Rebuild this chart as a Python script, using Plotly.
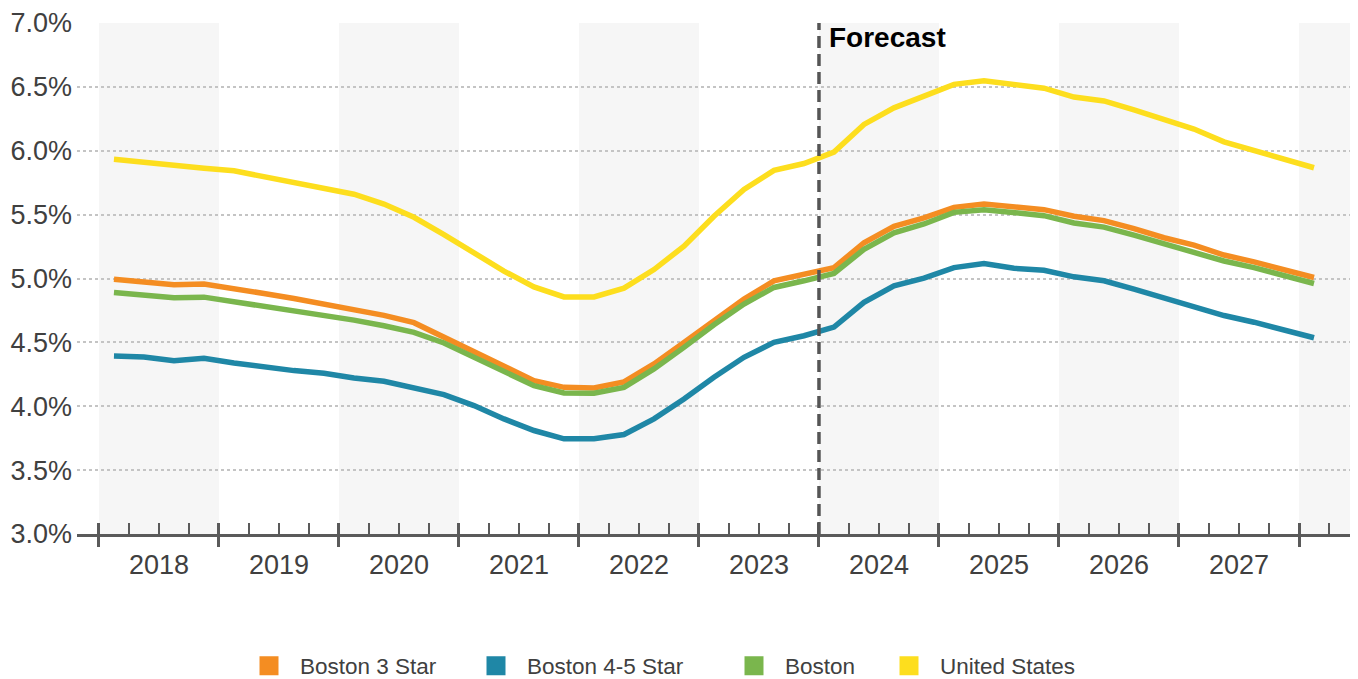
import plotly.graph_objects as go

# Quarterly periods, 2018 Q1 through 2028 Q1
years = list(range(2018, 2029))
quarters = [(y, q) for y in years for q in (1, 2, 3, 4)][:41]
x_vals = [y + (q - 0.5) / 4 for y, q in quarters]

boston_3_star = [4.995, 4.974, 4.951, 4.956, 4.924, 4.883, 4.844, 4.800, 4.755, 4.711,
                 4.654, 4.539, 4.420, 4.305, 4.200, 4.148, 4.143, 4.190, 4.331, 4.500,
                 4.674, 4.839, 4.982, 5.029, 5.085, 5.280, 5.409, 5.474, 5.557, 5.583,
                 5.557, 5.539, 5.487, 5.453, 5.391, 5.319, 5.262, 5.184, 5.130, 5.065,
                 5.008]
boston_4_5_star = [4.393, 4.385, 4.357, 4.375, 4.339, 4.305, 4.279, 4.258, 4.221, 4.195,
                   4.148, 4.091, 4.005, 3.901, 3.810, 3.745, 3.745, 3.779, 3.901, 4.057,
                   4.227, 4.383, 4.500, 4.552, 4.620, 4.813, 4.943, 5.003, 5.085, 5.117,
                   5.080, 5.065, 5.013, 4.982, 4.917, 4.847, 4.788, 4.710, 4.658, 4.593,
                   4.536]
boston = [4.891, 4.872, 4.849, 4.854, 4.818, 4.779, 4.747, 4.716, 4.674, 4.630,
          4.578, 4.495, 4.385, 4.266, 4.161, 4.104, 4.102, 4.148, 4.292, 4.461,
          4.638, 4.800, 4.930, 4.982, 5.040, 5.228, 5.358, 5.427, 5.518, 5.539,
          5.513, 5.492, 5.435, 5.402, 5.339, 5.272, 5.215, 5.137, 5.085, 5.021,
          4.961]
united_states = [5.933, 5.907, 5.882, 5.863, 5.843, 5.796, 5.754, 5.707, 5.660, 5.583,
                 5.479, 5.344, 5.205, 5.058, 4.934, 4.856, 4.856, 4.924, 5.070, 5.253,
                 5.487, 5.698, 5.846, 5.900, 5.990, 6.206, 6.336, 6.430, 6.520, 6.547,
                 6.520, 6.490, 6.420, 6.390, 6.320, 6.240, 6.170, 6.070, 6.005, 5.940,
                 5.867]

series_names = ["Boston 3 Star", "Boston 4-5 Star", "Boston", "United States"]
series_values = [boston_3_star, boston_4_5_star, boston, united_states]
series_colors = ["#F48D22", "#1F87A6", "#7AB64D", "#FDDE1E"]
draw_order = [1, 0, 2, 3]

forecast_start = 2024
year_labels = [str(y) for y in years[:-1]]

AXIS_COLOR = "#5a5a5a"
TEXT_COLOR = "#404040"
FONT = "Arial, Liberation Sans, sans-serif"

x_range = [2017.817, 2028.425]

# left edge (px) of each legend entry along the bottom row
legend_left_px = [238, 465, 723, 878]

fig = go.Figure()

# Alternating year shading
for y in years[::2]:
    fig.add_vrect(x0=y, x1=min(y + 1, x_range[1]), fillcolor="#f6f6f6", line_width=0,
                  layer="below")

for i in draw_order:
    fig.add_trace(go.Scatter(
        x=x_vals, y=series_values[i], mode="lines", name=series_names[i],
        line=dict(color=series_colors[i], width=5.5), showlegend=False,
        hoverinfo="skip",
    ))

# Legend entries with square swatches, one legend box per entry
legend_ids = ["legend", "legend2", "legend3", "legend4"]
for name, color, lid in zip(series_names, series_colors, legend_ids):
    fig.add_trace(go.Scatter(
        x=[None], y=[None], mode="markers", name=name, legend=lid,
        marker=dict(symbol="square", size=16, color=color,
                    line=dict(color=color, width=3)),
    ))

# Empty helper traces so the overlaid tick axes are rendered
for ax in ("x2", "x3"):
    fig.add_trace(go.Scatter(x=[None], y=[None], xaxis=ax, yaxis="y",
                             showlegend=False, hoverinfo="skip"))

# Forecast divider
fig.add_shape(type="line", x0=forecast_start, x1=forecast_start, xref="x",
              y0=0, y1=1, yref="paper",
              line=dict(color="#555555", width=3.5, dash="12px,6px"))
fig.add_annotation(x=forecast_start, xref="x", y=1, yref="paper",
                   text="<b>Forecast</b>", showarrow=False,
                   xanchor="left", yanchor="top", xshift=8, yshift=3,
                   font=dict(family=FONT, size=28, color="#000000"))

quarter_edges = [y + k / 4 for y in years for k in range(4)] + [2028.25]

legend_common = dict(
    orientation="h", xref="container", xanchor="left",
    yref="container", y=(679 - 666) / 679, yanchor="middle",
    font=dict(size=22.5, color=TEXT_COLOR), itemwidth=52,
    bgcolor="rgba(0,0,0,0)",
)

fig.update_layout(
    width=1358, height=679,
    margin=dict(l=77, r=8, t=20, b=145),
    plot_bgcolor="white", paper_bgcolor="white",
    font=dict(family=FONT, color=TEXT_COLOR),
    xaxis=dict(
        range=x_range, tickmode="array",
        tickvals=[y + 0.5 for y in years[:-1]], ticktext=year_labels,
        ticks="", showgrid=False, zeroline=False,
        showline=True, linecolor=AXIS_COLOR, linewidth=3,
        tickfont=dict(size=27, color=TEXT_COLOR), ticklabelstandoff=5,
    ),
    xaxis2=dict(
        range=x_range, overlaying="x", anchor="y", side="bottom",
        tickmode="array", tickvals=years, showticklabels=False,
        ticks="outside", ticklen=12, tickwidth=3, tickcolor=AXIS_COLOR,
        showgrid=False, zeroline=False, showline=False,
        minor=dict(tickmode="array", tickvals=quarter_edges, ticks="inside",
                   ticklen=11, tickwidth=2, tickcolor=AXIS_COLOR, showgrid=False),
    ),
    xaxis3=dict(
        range=x_range, overlaying="x", anchor="y", side="bottom",
        tickmode="array", tickvals=years, showticklabels=False,
        ticks="inside", ticklen=11, tickwidth=3, tickcolor=AXIS_COLOR,
        showgrid=False, zeroline=False, showline=False,
    ),
    yaxis=dict(
        range=[3.0, 7.0], tickmode="linear", tick0=3.0, dtick=0.5,
        tickformat=".1f", ticksuffix="%", ticks="",
        showgrid=True, gridcolor="#c4c4c4", gridwidth=1.5, griddash="dot",
        zeroline=False, showline=False,
        tickfont=dict(size=27, color=TEXT_COLOR), ticklabelstandoff=4,
    ),
)

for lid, px in zip(legend_ids, legend_left_px):
    fig.update_layout({lid: dict(legend_common, x=px / 1358)})

fig.write_html("out.html")
